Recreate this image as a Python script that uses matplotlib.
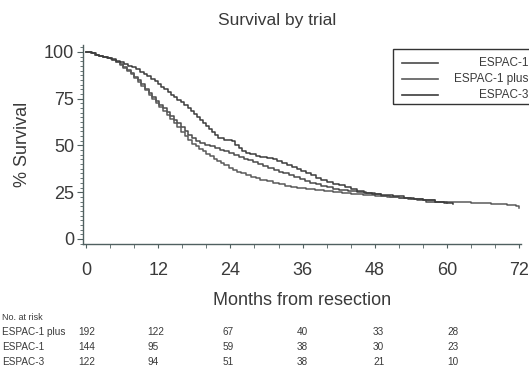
import matplotlib
matplotlib.use('Agg')
import matplotlib.pyplot as plt
from matplotlib.ticker import MultipleLocator
from matplotlib.patches import Rectangle
from matplotlib.lines import Line2D

plt.rcParams['font.family'] = ['Liberation Sans', 'DejaVu Sans']

# ---------------- data ----------------
series_names = ["ESPAC-1", "ESPAC-1 plus", "ESPAC-3"]

espac1_t = [0, 0.8, 1.5, 2.2, 2.9, 3.6, 4.3, 5.0, 5.6, 6.2,
            6.8, 7.4, 8.0, 8.6, 9.2, 9.8, 10.4, 11.0, 11.6, 12.2,
            12.8, 13.4, 14.0, 14.6, 15.2, 15.8, 16.4, 17.0, 17.6, 18.3,
            19.0, 19.8, 20.6, 21.4, 22.2, 23.0, 23.8, 24.6, 25.4, 26.2,
            27.0, 27.8, 28.6, 29.4, 30.3, 31.2, 32.0, 32.8, 33.7, 34.6,
            35.5, 36.4, 37.3, 38.2, 39.1, 40.0, 41.0, 42.0, 43.5, 45.0,
            46.5, 48.0, 49.0, 50.5, 52.0, 53.5, 55.0, 56.5, 58.0, 60.0]
espac1_s = [100, 99.3, 98.6, 97.9, 97.2, 96.5, 95.7, 94.8, 93.4, 91.9,
            90.3, 88.6, 86.8, 84.8, 82.7, 80.4, 78.1, 75.9, 73.8, 71.8,
            69.8, 67.8, 65.8, 63.8, 61.8, 59.8, 57.8, 55.8, 54.0, 52.6,
            51.5, 50.5, 49.6, 48.7, 47.8, 46.9, 46.0, 45.0, 44.0, 43.0,
            42.0, 41.0, 40.0, 39.0, 38.0, 37.0, 36.0, 35.0, 34.0, 33.0,
            32.0, 31.0, 30.0, 29.2, 28.4, 27.6, 26.8, 26.2, 25.5, 25.0,
            24.5, 24.0, 23.2, 22.5, 21.8, 21.2, 20.6, 20.0, 19.5, 19.0]

espac1plus_t = [0, 0.8, 1.5, 2.2, 2.9, 3.6, 4.3, 5.0, 5.6, 6.2,
                6.8, 7.4, 8.0, 8.6, 9.2, 9.8, 10.4, 11.0, 11.6, 12.2,
                12.8, 13.4, 14.0, 14.6, 15.2, 15.8, 16.4, 17.0, 17.6, 18.2,
                18.8, 19.4, 20.0, 20.6, 21.2, 21.8, 22.4, 23.0, 23.7, 24.4,
                25.1, 25.8, 26.6, 27.4, 28.2, 29.0, 30.0, 31.0, 32.0, 33.0,
                34.0, 35.0, 36.5, 38.0, 39.5, 41.0, 42.5, 44.0, 46.0, 48.0,
                50.0, 52.0, 54.0, 56.0, 58.0, 61.0, 64.0, 67.3, 70.0, 71.5,
                72.0]
espac1plus_s = [100, 99.3, 98.6, 97.9, 97.2, 96.5, 95.7, 94.8, 93.2, 91.5,
                89.8, 88.0, 86.1, 84.0, 81.8, 79.5, 77.2, 75.0, 72.8, 70.6,
                68.4, 66.2, 64.0, 61.8, 59.6, 57.4, 55.2, 53.0, 51.0, 49.6,
                48.2, 46.9, 45.6, 44.3, 43.0, 41.8, 40.6, 39.4, 38.2, 37.0,
                36.0, 35.0, 34.0, 33.2, 32.4, 31.6, 30.8, 30.0, 29.2, 28.4,
                27.8, 27.3, 26.8, 26.3, 25.8, 25.3, 24.8, 24.3, 23.7, 23.2,
                22.6, 22.0, 21.3, 20.6, 20.0, 19.5, 19.0, 18.5, 18.0, 17.5,
                16.5]

espac3_t = [0, 1.0, 1.6, 2.2, 2.9, 3.5, 4.2, 5.0, 5.6, 6.3,
            7.0, 7.6, 8.3, 9.0, 9.6, 10.2, 10.8, 11.4, 11.9, 12.5,
            13.0, 13.6, 14.1, 14.7, 15.2, 15.8, 16.3, 16.9, 17.4, 18.0,
            18.5, 19.0, 19.5, 20.0, 20.5, 21.0, 21.5, 22.0, 23.0, 24.2,
            24.8, 25.4, 26.0, 26.6, 27.3, 28.2, 29.0, 30.0, 31.0, 31.8,
            32.6, 33.4, 34.2, 35.0, 35.8, 36.6, 37.4, 38.2, 39.0, 40.0,
            41.0, 42.0, 43.0, 44.0, 45.0, 46.2, 47.5, 49.0, 51.0, 52.8,
            54.5, 56.0, 58.0, 59.5, 61.0]
espac3_s = [100, 99.3, 98.6, 98.0, 97.3, 96.7, 96.0, 95.4, 94.6, 93.7,
            92.7, 91.8, 90.7, 89.5, 88.4, 87.0, 85.6, 84.2, 82.8, 81.4,
            80.0, 78.6, 77.2, 75.8, 74.4, 73.0, 71.5, 70.0, 68.5, 67.0,
            65.4, 63.8, 62.2, 60.6, 58.8, 57.0, 55.4, 53.8, 53.0, 52.2,
            50.5, 48.8, 47.2, 46.0, 45.2, 44.5, 43.8, 43.2, 42.5, 41.6,
            40.6, 39.6, 38.6, 37.5, 36.4, 35.2, 34.0, 32.8, 31.6, 30.6,
            29.6, 28.6, 27.6, 26.6, 25.6, 24.8, 24.0, 23.3, 22.7, 22.0,
            21.3, 20.6, 20.0, 19.3, 18.6]

risk_labels = ["ESPAC-1 plus", "ESPAC-1", "ESPAC-3"]
risk_espac1plus = [192, 122, 67, 40, 33, 28]
risk_espac1 = [144, 95, 59, 38, 30, 23]
risk_espac3 = [122, 94, 51, 38, 21, 10]

x_ticks = [0, 12, 24, 36, 48, 60, 72]
y_ticks = [0, 25, 50, 75, 100]

# ---------------- figure ----------------
W, H = 529, 373
fig = plt.figure(figsize=(W / 100, H / 100), dpi=100)


def fx(px):
    return px / W


def fy(py):
    return 1 - py / H


txt = '#3a3a3a'
ax = fig.add_axes([fx(83), fy(244), fx(521) - fx(83), fy(45) - fy(244)])

curves = [(espac1_t, espac1_s, '#4a4a4a'),
          (espac1plus_t, espac1plus_s, '#5a5a5a'),
          (espac3_t, espac3_s, '#3c3c3c')]
for t, s, c in curves:
    ax.step(t, s, where='post', color=c, lw=1.1)

ax.set_xlim(-0.5, 72.3)
ax.set_ylim(-2.7, 103.7)
for sp in ['top', 'right']:
    ax.spines[sp].set_visible(False)
for sp in ['left', 'bottom']:
    ax.spines[sp].set_color('#506060')
    ax.spines[sp].set_linewidth(1.0)

ax.set_xticks(x_ticks)
ax.xaxis.set_minor_locator(MultipleLocator(4))
ax.set_yticks(y_ticks)
ax.yaxis.set_minor_locator(MultipleLocator(2.5))
ax.tick_params(axis='x', which='both', length=3, color='#506060', labelsize=13,
               labelcolor=txt, pad=10)
ax.tick_params(axis='y', which='major', length=4, color='#506060', labelsize=13,
               labelcolor=txt, pad=2.5)
ax.tick_params(axis='y', which='minor', length=2, color='#506060')

ax.set_xlabel('Months from resection', fontsize=13, color=txt, labelpad=9)
ax.set_ylabel('% Survival', fontsize=13, color=txt, labelpad=9)
fig.text(fx(277), fy(21), 'Survival by trial', ha='center', va='center',
         fontsize=12.5, color=txt)

# legend (manual, right-aligned labels)
fig.patches.append(Rectangle((fx(393), fy(104)), fx(560) - fx(393), fy(49) - fy(104),
                             transform=fig.transFigure, fill=False,
                             edgecolor='#333333', lw=1.0))
leg_y = [63, 79, 95]
for (t, s, c), name, yy in zip(curves, series_names, leg_y):
    fig.lines.append(Line2D([fx(402), fx(438)], [fy(yy), fy(yy)],
                            transform=fig.transFigure, color=c, lw=1.2))
    fig.text(fx(528), fy(yy), name, ha='right', va='center', fontsize=8.5,
             color=txt)

# numbers at risk table
fig.text(fx(2), fy(318), 'No. at risk', ha='left', va='center', fontsize=6.5,
         color=txt)
col_x = [78, 147, 223, 297, 373, 447]
row_y = [332, 347, 362]
for lab, vals, yy in zip(risk_labels, [risk_espac1plus, risk_espac1, risk_espac3], row_y):
    fig.text(fx(2), fy(yy), lab, ha='left', va='center', fontsize=7.2, color=txt)
    for v, xx in zip(vals, col_x):
        fig.text(fx(xx), fy(yy), str(v), ha='left', va='center', fontsize=7.2,
                 color=txt)

fig.savefig('out.png', dpi=100)
